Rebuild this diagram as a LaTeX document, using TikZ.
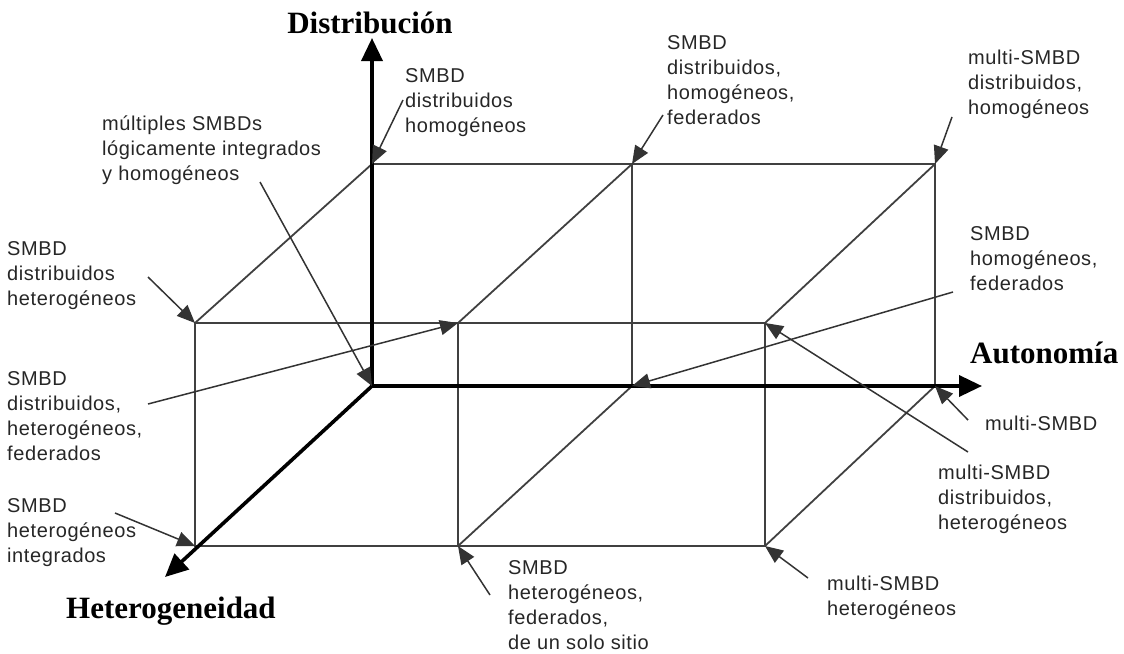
\documentclass[tikz,border=0pt]{standalone}
\usepackage{fontspec}
\setmainfont{Liberation Serif}
\newfontfamily\lblfont[LetterSpace=3]{Liberation Sans}
\usetikzlibrary{arrows.meta}
% stacked label lines; the baseline is that of the first line
\newcommand\labeltext[1]{\begin{tabular}[t]{@{}l@{}}#1\end{tabular}}
\begin{document}
\begin{tikzpicture}[x=1pt,y=-1pt,
  frame/.style={draw=black!75, line width=1.8pt},
  axisline/.style={draw=black, line width=3.6pt, -{Triangle[length=23pt,width=21pt]}},
  pointer/.style={draw=black!80, line width=1.5pt, -{Triangle[length=18pt,width=15pt]}},
  lbl/.style={font=\lblfont\fontsize{20}{25}\selectfont, text=black!85, anchor=base west, inner sep=0pt},
  axlbl/.style={font=\rmfamily\bfseries\fontsize{31}{36}\selectfont, inner sep=0pt}]
\useasboundingbox (0,0) rectangle (1124,653);

% corners of the classification cube
\coordinate (O)  at (372,386);
\coordinate (Dtop) at (372,38);
\coordinate (Aend) at (982,386);
\coordinate (Hend) at (165,577);
\coordinate (B1) at (372,164);
\coordinate (B2) at (632,164);
\coordinate (B3) at (935,164);
\coordinate (A2) at (632,386);
\coordinate (A3) at (935,386);
\coordinate (F1) at (195,323);
\coordinate (F2) at (458,323);
\coordinate (F3) at (765,323);
\coordinate (G1) at (195,546);
\coordinate (G2) at (458,546);
\coordinate (G3) at (765,546);

% cube edges
\draw[frame] (B1) -- (B3) -- (A3);
\draw[frame] (B2) -- (A2);
\draw[frame] (F1) -- (F3) -- (G3) -- (G1) -- cycle;
\draw[frame] (F2) -- (G2);
\draw[frame] (F1) -- (B1);
\draw[frame] (F2) -- (B2);
\draw[frame] (F3) -- (B3);
\draw[frame] (G2) -- (A2);
\draw[frame] (G3) -- (A3);

% axes
\draw[axisline] (O) -- (Dtop);
\draw[axisline] (O) -- (Aend);
\draw[axisline] (O) -- (Hend);

\node[axlbl, anchor=base] (dist) at (370,33) {Distribución};
\node[axlbl, anchor=base west] (auto) at (970,363) {Autonomía};
\node[axlbl, anchor=base west] (het) at (66,618) {Heterogeneidad};

% labels
\node[lbl] (l1) at (405,82) {\labeltext{SMBD\\distribuidos\\homogéneos}};
\node[lbl] (l2) at (102,130) {\labeltext{múltiples SMBDs\\lógicamente integrados\\y homogéneos}};
\node[lbl] (l3) at (667,49) {\labeltext{SMBD\\distribuidos,\\homogéneos,\\federados}};
\node[lbl] (l4) at (968,64) {\labeltext{multi-SMBD\\distribuidos,\\homogéneos}};
\node[lbl] (l5) at (7,255) {\labeltext{SMBD\\distribuidos\\heterogéneos}};
\node[lbl] (l6) at (970,240) {\labeltext{SMBD\\homogéneos,\\federados}};
\node[lbl] (l7) at (7,385) {\labeltext{SMBD\\distribuidos,\\heterogéneos,\\federados}};
\node[lbl] (l8) at (985,430) {multi-SMBD};
\node[lbl] (l9) at (938,479) {\labeltext{multi-SMBD\\distribuidos,\\heterogéneos}};
\node[lbl] (l10) at (7,512) {\labeltext{SMBD\\heterogéneos\\integrados}};
\node[lbl] (l11) at (508,574) {\labeltext{SMBD\\heterogéneos,\\federados,\\de un solo sitio}};
\node[lbl] (l12) at (827,590) {\labeltext{multi-SMBD\\heterogéneos}};

% pointer tails
\coordinate (t1) at (403,100);
\coordinate (t2) at (260,182);
\coordinate (t3) at (663,115);
\coordinate (t4) at (952,117);
\coordinate (t5) at (148,277);
\coordinate (t6) at (953,292);
\coordinate (t7) at (148,404);
\coordinate (t8) at (968,420);
\coordinate (t9) at (968,452);
\coordinate (t10) at (115,513);
\coordinate (t11) at (490,595);
\coordinate (t12) at (808,578);

% pointers
\draw[pointer] (t1) -- (B1);
\draw[pointer] (t2) -- (O);
\draw[pointer] (t3) -- (B2);
\draw[pointer] (t4) -- (B3);
\draw[pointer] (t5) -- (F1);
\draw[pointer] (t6) -- (A2);
\draw[pointer] (t7) -- (F2);
\draw[pointer] (t8) -- (A3);
\draw[pointer] (t9) -- (F3);
\draw[pointer] (t10) -- (G1);
\draw[pointer] (t11) -- (G2);
\draw[pointer] (t12) -- (G3);
\end{tikzpicture}
\end{document}
